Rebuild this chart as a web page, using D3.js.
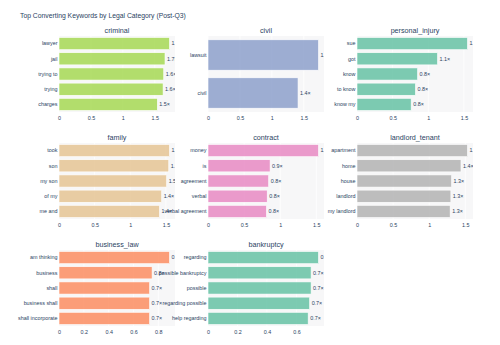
<!DOCTYPE html>
<html>
<head>
<meta charset="utf-8">
<script src="https://cdn.jsdelivr.net/npm/d3@7"></script>
<style>
  body { margin: 0; background: #fff; }
  svg { display: block; font-family: "Liberation Sans", Arial, sans-serif; }
</style>
</head>
<body>
<script>
// data (largest first = top bar)
const categories = ["criminal", "civil", "personal_injury", "family", "contract",
                    "landlord_tenant", "business_law", "bankruptcy"];

const criminalKeys = ["lawyer", "jail", "trying to", "trying", "charges"];
const criminalVals = [1.73, 1.66, 1.64, 1.63, 1.54];

const civilKeys = ["lawsuit", "civil"];
const civilVals = [1.73, 1.41];

const injuryKeys = ["sue", "got", "know", "to know", "know my"];
const injuryVals = [1.55, 1.13, 0.85, 0.82, 0.76];

const familyKeys = ["took", "son", "my son", "of my", "me and"];
const familyVals = [1.55, 1.54, 1.51, 1.44, 1.41];

const contractKeys = ["money", "is", "agreement", "verbal", "verbal agreement"];
const contractVals = [1.53, 0.86, 0.84, 0.82, 0.81];

const landlordKeys = ["apartment", "home", "house", "landlord", "my landlord"];
const landlordVals = [1.53, 1.44, 1.31, 1.30, 1.29];

const businessKeys = ["am thinking", "business", "shall", "business shall", "shall incorporate"];
const businessVals = [0.89, 0.75, 0.73, 0.73, 0.73];

const bankruptcyKeys = ["regarding", "possible bankruptcy", "possible", "regarding possible", "help regarding"];
const bankruptcyVals = [0.75, 0.70, 0.70, 0.69, 0.68];

const panelColors = ["#a6d854", "#8da0cb", "#66c2a5", "#e5c494", "#e78ac3",
                     "#b3b3b3", "#fc8d62", "#66c2a5"];

const titleText = "Top Converting Keywords by Legal Category (Post-Q3)";

(function(){
  const WIDTH = 500, HEIGHT = 345;
  const COL_X = [59, 208, 357];
  const ROW_Y = [36, 143, 250];
  const PW = 116, PH = 76;
  const TXT = "#2a3f5f";

  const keyLists = [criminalKeys, civilKeys, injuryKeys, familyKeys, contractKeys,
                    landlordKeys, businessKeys, bankruptcyKeys];
  const valLists = [criminalVals, civilVals, injuryVals, familyVals, contractVals,
                    landlordVals, businessVals, bankruptcyVals];

  const svg = d3.select("body").append("svg")
    .attr("width", WIDTH)
    .attr("height", HEIGHT);

  svg.append("text")
    .attr("x", 20).attr("y", 17.5)
    .attr("font-size", 6.8)
    .attr("fill", TXT)
    .text(titleText);

  const fmt = d3.format(".1f");

  categories.forEach(function(cat, i){
    const keys = keyLists[i], vals = valLists[i];
    const data = keys.map(function(k, j){ return {key: k, value: vals[j]}; });
    const x0 = COL_X[i % 3], y0 = ROW_Y[Math.floor(i / 3)];

    const x = d3.scaleLinear()
      .domain([0, d3.max(vals) * 1.05])
      .range([0, PW]);
    const y = d3.scaleBand()
      .domain(keys)
      .range([0, PH])
      .paddingInner(0.2)
      .paddingOuter(0.1);

    const g = svg.append("g")
      .attr("transform", "translate(" + x0 + "," + y0 + ")");

    // plot background
    g.append("rect")
      .attr("width", PW).attr("height", PH)
      .attr("fill", "#f7f7f8");

    const clipId = "clip-" + i;
    g.append("clipPath").attr("id", clipId)
      .append("rect").attr("width", PW).attr("height", PH);

    // vertical gridlines
    const ticks = x.ticks(4);
    g.selectAll("line.grid")
      .data(ticks)
      .enter().append("line")
      .attr("class", "grid")
      .attr("x1", function(d){ return x(d); })
      .attr("x2", function(d){ return x(d); })
      .attr("y1", 0).attr("y2", PH)
      .attr("stroke", "#ffffff")
      .attr("stroke-width", 0.8);

    // x axis
    const xAxis = g.append("g")
      .attr("transform", "translate(0," + PH + ")")
      .call(d3.axisBottom(x).tickValues(ticks).tickSize(0).tickPadding(4)
        .tickFormat(d3.format("~g")));
    xAxis.select(".domain").remove();
    xAxis.selectAll("text").attr("font-size", 5.4).attr("fill", TXT);

    // y axis
    const yAxis = g.append("g")
      .call(d3.axisLeft(y).tickSize(0).tickPadding(1.5));
    yAxis.select(".domain").remove();
    yAxis.selectAll("text").attr("font-size", 5.4).attr("fill", TXT);

    // bars
    g.selectAll("rect.bar")
      .data(data)
      .enter().append("rect")
      .attr("class", "bar")
      .attr("x", 0)
      .attr("y", function(d){ return y(d.key); })
      .attr("width", function(d){ return x(d.value); })
      .attr("height", y.bandwidth())
      .attr("fill", panelColors[i])
      .attr("fill-opacity", 0.85)
      .attr("stroke", "#ffffff")
      .attr("stroke-width", 0.6);

    // value labels, clipped to the plot area
    g.append("g")
      .attr("clip-path", "url(#" + clipId + ")")
      .selectAll("text")
      .data(data)
      .enter().append("text")
      .attr("x", function(d){ return x(d.value) + 2; })
      .attr("y", function(d){ return y(d.key) + y.bandwidth() / 2; })
      .attr("dy", "0.35em")
      .attr("font-size", 5.4)
      .attr("fill", TXT)
      .text(function(d){ return fmt(d.value) + "×"; });

    // subplot title
    g.append("text")
      .attr("x", PW / 2).attr("y", -3)
      .attr("text-anchor", "middle")
      .attr("font-size", 7.2)
      .attr("fill", TXT)
      .text(cat);
  });
})();
</script>
</body>
</html>
